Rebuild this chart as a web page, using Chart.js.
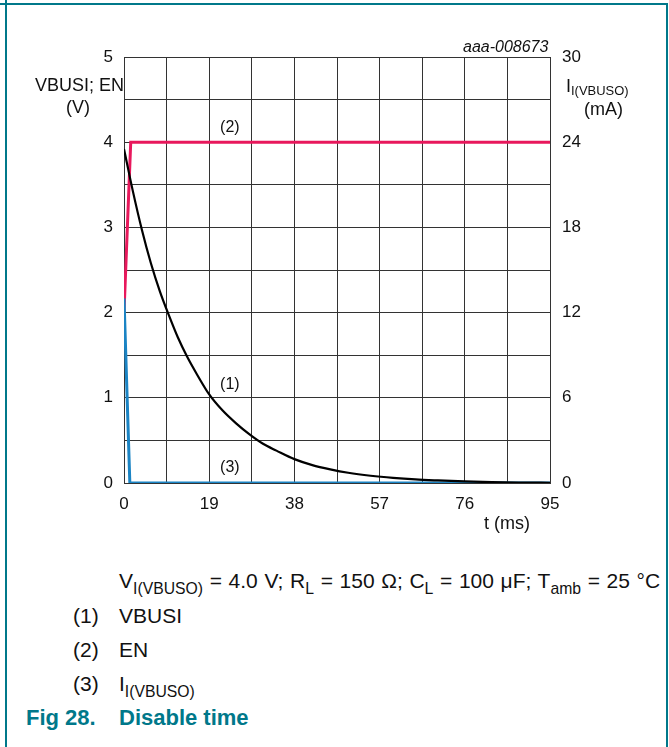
<!DOCTYPE html>
<html>
<head>
<meta charset="utf-8">
<script src="https://cdn.jsdelivr.net/npm/chart.js@4"></script>
<style>
  html, body { margin:0; padding:0; background:#fff; }
  body { width:669px; height:747px; position:relative; overflow:hidden; font-family:"Liberation Sans", Arial, sans-serif; color:#111; }
  #wrap { position:absolute; left:0; top:0; width:669px; height:540px; }
  .t { position:absolute; white-space:nowrap; line-height:1; }
  .sub { font-size:0.75em; vertical-align:-0.35em; }
  .bl { position:absolute; background:#00788a; }
</style>
</head>
<body>
<div class="bl" style="left:0;top:3px;width:668px;height:2px"></div>
<div class="bl" style="left:5px;top:0;width:2px;height:747px"></div>
<div class="bl" style="left:666px;top:3px;width:2px;height:744px"></div>
<div id="wrap"><canvas id="c"></canvas></div>

<div class="t" style="left:35px;top:76px;font-size:18px">VBUSI; EN</div>
<div class="t" style="left:66px;top:98px;font-size:18px">(V)</div>
<div class="t" style="left:566px;top:77px;font-size:18px">I<span style="font-size:0.72em;vertical-align:-0.25em">I(VBUSO)</span></div>
<div class="t" style="left:584px;top:100px;font-size:18px">(mA)</div>
<div class="t" style="left:463px;top:39px;font-size:16px;font-style:italic">aaa-008673</div>
<div class="t" style="left:484px;top:514px;font-size:18px">t (ms)</div>

<div class="t" style="left:119px;top:570px;font-size:21px;word-spacing:0.8px">V<span class="sub">I(VBUSO)</span> = 4.0 V; R<span class="sub">L</span> = 150 Ω; C<span class="sub">L</span> = 100 μF; T<span class="sub">amb</span> = 25 °C</div>
<div class="t" style="left:73px;top:605px;font-size:21px">(1)</div>
<div class="t" style="left:119px;top:605px;font-size:21px">VBUSI</div>
<div class="t" style="left:73px;top:639px;font-size:21px">(2)</div>
<div class="t" style="left:119px;top:639px;font-size:21px">EN</div>
<div class="t" style="left:73px;top:673px;font-size:21px">(3)</div>
<div class="t" style="left:119px;top:673px;font-size:21px">I<span class="sub">I(VBUSO)</span></div>
<div class="t" style="left:26px;top:707px;font-size:22px;font-weight:bold;color:#00788a">Fig 28.</div>
<div class="t" style="left:119px;top:707px;font-size:22px;font-weight:bold;color:#00788a">Disable time</div>

<script>
// ---- data ----
const vbusiT = [0, 2, 4, 6, 8, 10, 12, 14, 16, 19, 22, 25, 28, 31, 34, 38, 42, 46, 50, 55, 60, 65, 70, 76, 82, 88, 95];
const vbusiV = [3.92, 3.42, 2.97, 2.58, 2.25, 1.97, 1.71, 1.49, 1.30, 1.04, 0.85, 0.70, 0.57, 0.46, 0.38, 0.28, 0.21, 0.16, 0.12, 0.085, 0.06, 0.042, 0.03, 0.018, 0.01, 0.005, 0.003];
const enT = [0, 1.5, 95];
const enV = [2.0, 4.0, 4.0];
const iT = [0, 1.3, 95];
const iMA = [13, 0, 0];
const xTickLabels = [0, 19, 38, 57, 76, 95];
const yLeftLabels = [0, 1, 2, 3, 4, 5];
const yRightLabels = [0, 6, 12, 18, 24, 30];
const curveLabels = ['(1)', '(2)', '(3)'];
const curveLabelT = [23.6, 23.6, 23.6];
const curveLabelV = [1.16, 4.17, 0.18];

const toXY = (xs, ys) => xs.map((x, i) => ({x, y: ys[i]}));
const tickFont = {family: '"Liberation Sans", Arial, sans-serif', size: 17};
const near = (v, arr) => arr.some(a => Math.abs(a - v) < 1e-6);

const labelPlugin = {
  id: 'curveLabels',
  afterDatasetsDraw(chart) {
    const ctx = chart.ctx, xs = chart.scales.x, ys = chart.scales.y;
    ctx.save();
    ctx.font = '16px "Liberation Sans", Arial, sans-serif';
    ctx.fillStyle = '#111';
    ctx.textAlign = 'center';
    ctx.textBaseline = 'middle';
    curveLabels.forEach((s, i) => ctx.fillText(s, xs.getPixelForValue(curveLabelT[i]), ys.getPixelForValue(curveLabelV[i])));
    ctx.restore();
  }
};

new Chart(document.getElementById('c'), {
  type: 'line',
  data: {
    datasets: [
      {label: 'VBUSI', data: toXY(vbusiT, vbusiV), yAxisID: 'y', borderColor: '#000', borderWidth: 2.2, pointRadius: 0, cubicInterpolationMode: 'monotone'},
      {label: 'I(VBUSO)', data: toXY(iT, iMA), yAxisID: 'y2', borderColor: '#1b84c4', borderWidth: 3, pointRadius: 0},
      {label: 'EN', data: toXY(enT, enV), yAxisID: 'y', borderColor: '#e8185c', borderWidth: 3, pointRadius: 0}
    ]
  },
  options: {
    responsive: true, maintainAspectRatio: false, animation: false,
    layout: {padding: {top: 57, left: 0, right: 0, bottom: 0}},
    plugins: {legend: {display: false}, tooltip: {enabled: false}},
    scales: {
      x: {
        type: 'linear', min: 0, max: 95,
        afterFit(s) { s.height = 57; },
        border: {color: '#333', width: 1},
        grid: {color: '#333', lineWidth: 1, drawTicks: false},
        ticks: {stepSize: 9.5, autoSkip: false, maxRotation: 0, padding: 11, color: '#111', font: tickFont,
          callback: v => near(v, xTickLabels) ? String(Math.round(v)) : ''}
      },
      y: {
        position: 'left', min: 0, max: 5,
        afterFit(s) { s.width = 124; },
        border: {color: '#333', width: 1},
        grid: {color: '#333', lineWidth: 1, drawTicks: false},
        ticks: {stepSize: 0.5, autoSkip: false, padding: 11, color: '#111', font: tickFont,
          callback: v => near(v, yLeftLabels) ? String(Math.round(v)) : ''}
      },
      y2: {
        position: 'right', min: 0, max: 30,
        afterFit(s) { s.width = 119; },
        border: {color: '#333', width: 1},
        grid: {display: false, drawTicks: false},
        ticks: {stepSize: 6, autoSkip: false, padding: 12, color: '#111', font: tickFont,
          callback: v => near(v, yRightLabels) ? String(Math.round(v)) : ''}
      }
    }
  },
  plugins: [labelPlugin]
});
</script>
</body>
</html>
